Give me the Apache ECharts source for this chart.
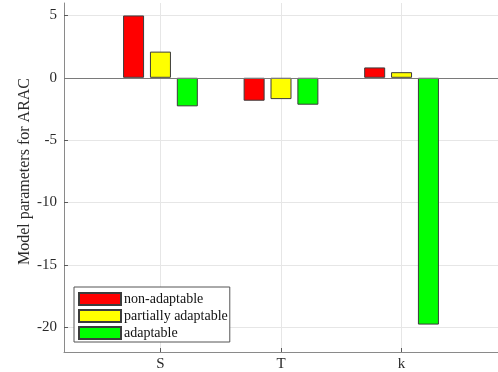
<!DOCTYPE html>
<html>
<head>
<meta charset="utf-8">
<script src="https://cdn.jsdelivr.net/npm/echarts@6/dist/echarts.min.js"></script>
<style>
  html, body { margin: 0; padding: 0; background: #fff; }
  #chart { width: 498px; height: 372px; }
</style>
</head>
<body>
<div id="chart"></div>
<script>
// Parameter groups on the x axis
const categories = ['S', 'T', 'k'];
// Fitted model parameters per adaptability class
const nonAdaptable = [5.0, -1.84, 0.83];
const partiallyAdaptable = [2.1, -1.71, 0.45];
const adaptable = [-2.29, -2.16, -19.8];
const seriesNames = ['non-adaptable', 'partially adaptable', 'adaptable'];
const yTicks = [-20, -15, -10, -5, 0, 5];

const FONT = '"Liberation Serif", "Times New Roman", serif';
const colors = ['#ff0000', '#ffff00', '#00ff00'];
const values = [nonAdaptable, partiallyAdaptable, adaptable];

const chart = echarts.init(document.getElementById('chart'), null, { renderer: 'canvas' });

const series = values.map((vals, s) => ({
  name: seriesNames[s],
  type: 'bar',
  barWidth: 21,
  barGap: '28%',
  data: vals.map((v, i) => [i + 1, v]),
  itemStyle: { color: colors[s], borderColor: '#3c3c3c', borderWidth: 1 },
  emphasis: { disabled: true },
  silent: true,
  z: 3,
  markLine: s === 0 ? {
    silent: true,
    symbol: ['none', 'none'],
    label: { show: false },
    lineStyle: { color: '#7a7a7a', width: 1, type: 'solid' },
    data: [{ yAxis: 0 }],
    z: 4
  } : undefined
}));

chart.setOption({
  animation: false,
  backgroundColor: '#ffffff',
  grid: { left: 64, top: 3, right: -5, bottom: 20, containLabel: false },
  xAxis: {
    type: 'value',
    min: 0.2,
    max: 3.8,
    axisLine: { show: true, onZero: false, lineStyle: { color: '#8a8a8a', width: 1 } },
    axisTick: { show: true, inside: true, length: 4, customValues: [1, 2, 3], lineStyle: { color: '#5a5a5a' } },
    axisLabel: {
      customValues: [1, 2, 3],
      formatter: v => categories[Math.round(v) - 1] || '',
      color: '#2a2a2a',
      fontFamily: FONT,
      fontSize: 15,
      margin: 5
    },
    splitLine: { show: true, lineStyle: { color: '#e6e6e6', width: 1 } }
  },
  yAxis: {
    type: 'value',
    min: -22,
    max: 6,
    name: 'Model parameters for ARAC',
    nameLocation: 'middle',
    nameGap: 31,
    nameMoveOverlap: false,
    nameTextStyle: { fontFamily: FONT, fontSize: 16, color: '#2a2a2a', padding: [0, 0, 0, 12] },
    axisLine: { show: true, onZero: false, lineStyle: { color: '#8a8a8a', width: 1 } },
    axisTick: { show: true, inside: true, length: 4, customValues: yTicks, lineStyle: { color: '#5a5a5a' } },
    axisLabel: {
      customValues: yTicks,
      color: '#2a2a2a',
      fontFamily: FONT,
      fontSize: 15,
      margin: 7
    },
    splitLine: { show: true, lineStyle: { color: '#e6e6e6', width: 1 } }
  },
  legend: {
    orient: 'vertical',
    left: 74,
    top: 287,
    padding: [5, 2, 2, 4],
    itemWidth: 42,
    itemHeight: 12,
    itemGap: 3,
    icon: 'rect',
    backgroundColor: '#ffffff',
    borderColor: '#555555',
    borderWidth: 1,
    borderRadius: 0,
    textStyle: { fontFamily: FONT, fontSize: 14, color: '#111', lineHeight: 12, padding: [0, 0, 0, -2] },
    data: seriesNames
  },
  series: series
});
</script>
</body>
</html>
